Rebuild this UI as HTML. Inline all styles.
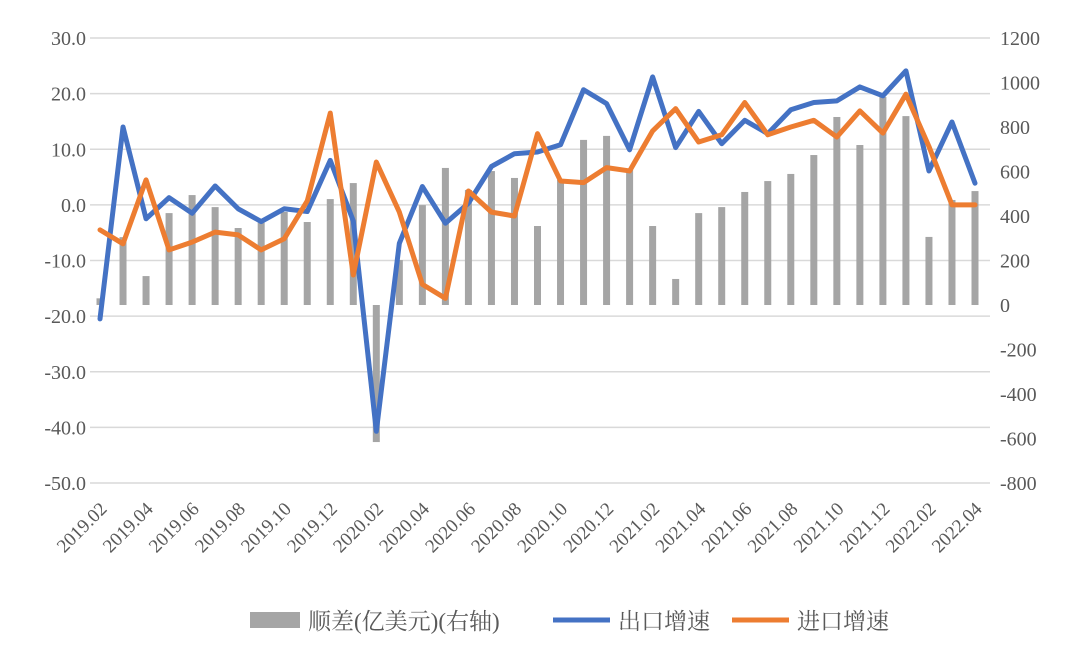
<!DOCTYPE html>
<html><head><meta charset="utf-8"><style>
body{margin:0;background:#fff}
svg text{font-family:"Liberation Serif","Noto Serif CJK SC",serif;fill:#595959}
</style></head><body>
<svg id="c" width="1080" height="643" xmlns="http://www.w3.org/2000/svg"></svg>
<script>
const months=["2019.02","2019.03","2019.04","2019.05","2019.06","2019.07","2019.08","2019.09","2019.10","2019.11","2019.12","2020.01","2020.02","2020.03","2020.04","2020.05","2020.06","2020.07","2020.08","2020.09","2020.10","2020.11","2020.12","2021.01","2021.02","2021.03","2021.04","2021.05","2021.06","2021.07","2021.08","2021.09","2021.10","2021.11","2021.12","2022.01","2022.02","2022.03","2022.04"];
const exportGrowth=[-20.5,14.0,-2.5,1.3,-1.5,3.4,-0.7,-3.0,-0.7,-1.2,8.0,-2.9,-40.7,-6.9,3.3,-3.3,0.3,6.9,9.2,9.5,10.8,20.7,18.2,9.9,23.0,10.3,16.8,11.0,15.2,12.8,17.1,18.4,18.7,21.2,19.6,24.1,6.1,14.9,3.9];
const importGrowth=[-4.5,-7.0,4.5,-8.1,-6.7,-4.9,-5.4,-8.1,-6.1,0.7,16.5,-12.6,7.7,-1.3,-14.3,-16.8,2.5,-1.3,-2.0,12.8,4.3,4.0,6.7,6.1,13.3,17.3,11.3,12.6,18.4,12.6,14.0,15.2,12.2,16.9,12.9,19.9,10.5,0.0,0.0];
const balance=[30,305,130,413,494,440,346,370,418,373,476,548,-616,202,449,616,517,602,571,355,562,742,760,607,355,117,413,440,508,557,589,674,845,719,935,849,306,472,512];
const leftTicks=[30,20,10,0,-10,-20,-30,-40,-50];
const rightTicks=[1200,1000,800,600,400,200,0,-200,-400,-600,-800];
const NS="http://www.w3.org/2000/svg",svg=document.getElementById('c');
const yL=v=>38+(30-v)*(445/80), yR=v=>38+(1200-v)*(445/2000), x=i=>100+i*(875/38);
function mk(t,a,p){const e=document.createElementNS(NS,t);for(const k in a)e.setAttribute(k,a[k]);(p||svg).appendChild(e);return e;}
leftTicks.forEach(v=>{
 const g=mk('line',{x1:90,x2:990,y1:yL(v),y2:yL(v),stroke:'#d9d9d9','stroke-width':1.5});
 
 
 const t=mk('text',{x:86,y:yL(v)+7,'text-anchor':'end','font-size':20});t.textContent=v.toFixed(1);
 
 
});
rightTicks.forEach(v=>{
 const t=mk('text',{x:1000,y:yR(v)+7,'font-size':20});t.textContent=v;
 
 
});
balance.forEach((v,i)=>{
 const y0=yR(0),y1=yR(v);
 const r=mk('rect',{x:x(i)-3.5,y:Math.min(y0,y1),width:7,height:Math.abs(y1-y0),fill:'#a5a5a5'});
 
 
});
function line(arr,col,name){
 const p=mk('polyline',{points:arr.map((v,i)=>x(i)+','+yL(v)).join(' '),fill:'none',stroke:col,'stroke-width':5,'stroke-linejoin':'round','stroke-linecap':'round'});
 
 
}
line(exportGrowth,'#4472c4','export-growth-line');
line(importGrowth,'#ed7d31','import-growth-line');
months.forEach((m,i)=>{if(i%2)return;
 const t=mk('text',{x:x(i)+8,y:510,'text-anchor':'end','font-size':19,transform:`rotate(-45 ${x(i)+8} 510)`});t.textContent=m;
 
 
});
const lg=mk('g',{});


const items=[['rect','#a5a5a5','顺差(亿美元)(右轴)',250],['line','#4472c4','出口增速',553],['line','#ed7d31','进口增速',732]];
items.forEach(([k,c,l,lx])=>{
 if(k==='rect'){const r=mk('rect',{x:lx,y:612,width:50,height:16,fill:c},lg);}
 else{const r=mk('line',{x1:lx,x2:lx+57,y1:620,y2:620,stroke:c,'stroke-width':5},lg);}
 const t=mk('text',{x:lx+(k==='rect'?58:65),y:629,'font-size':23},lg);t.textContent=l;
 
 
});
</script>
</body></html>
